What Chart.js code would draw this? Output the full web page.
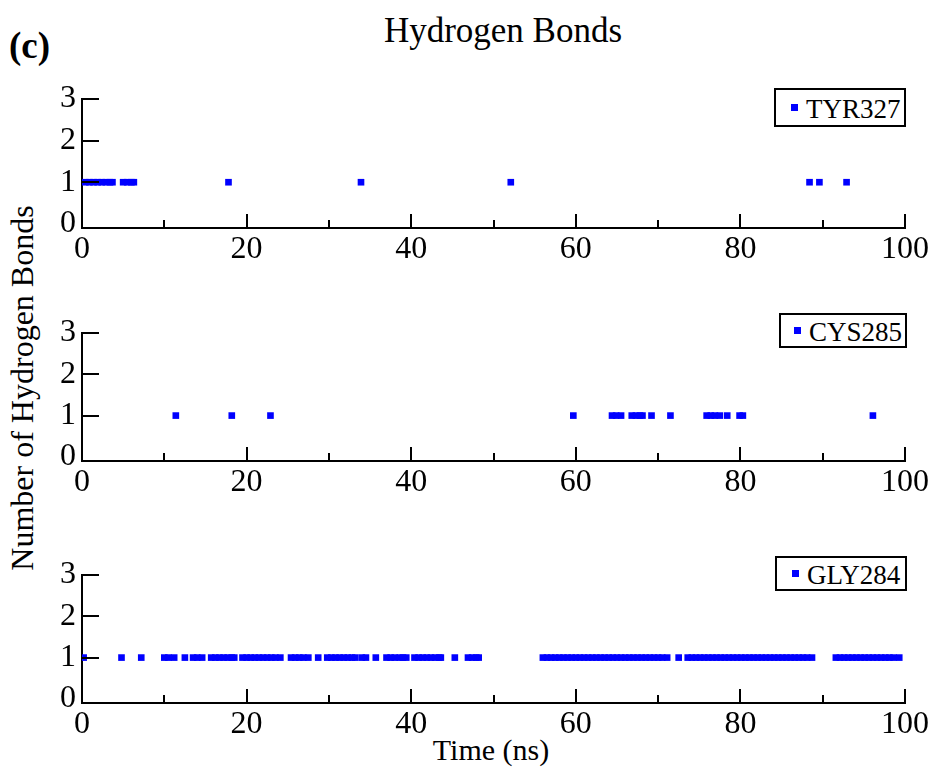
<!DOCTYPE html>
<html>
<head>
<meta charset="utf-8">
<script src="https://cdn.jsdelivr.net/npm/chart.js@4/dist/chart.umd.min.js"></script>
<style>
  html, body { margin: 0; padding: 0; background: #fff; }
  body { width: 931px; height: 767px; position: relative; overflow: hidden; font-family: "Liberation Serif", "DejaVu Serif", serif; color: #000; }
  .cv { position: absolute; left: 0; }
  .txt { position: absolute; white-space: nowrap; line-height: 1; }
  .legend { position: absolute; border: 2px solid #000; background: #fff; box-sizing: border-box; }
  .legend .mk { position: absolute; width: 7px; height: 7px; background: #0000ff; }
  .legend .lb { position: absolute; font-size: 27px; line-height: 1; }
</style>
</head>
<body>
<div class="txt" style="left:9px; top:27px; font-size:37px; font-weight:bold;">(c)</div>
<div class="txt" style="left:503px; top:13px; font-size:35px; transform:translateX(-50%);">Hydrogen Bonds</div>
<div class="txt" style="left:22px; top:388px; font-size:32px; transform:translate(-50%,-50%) rotate(-90deg);">Number of Hydrogen Bonds</div>
<div class="txt" style="left:491px; top:735px; font-size:30px; transform:translateX(-50%);">Time (ns)</div>

<canvas id="c1" class="cv" width="931" height="200" style="top:70px"></canvas>
<canvas id="c2" class="cv" width="931" height="200" style="top:305px"></canvas>
<canvas id="c3" class="cv" width="931" height="200" style="top:547px"></canvas>

<div class="legend" style="left:774px; top:88px; width:132px; height:39px;">
  <div class="mk" style="left:15px; top:14px;"></div>
  <div class="lb" style="left:30px; top:6px;">TYR327</div>
</div>
<div class="legend" style="left:779px; top:313px; width:128px; height:35px;">
  <div class="mk" style="left:13px; top:12px;"></div>
  <div class="lb" style="left:28px; top:4px;">CYS285</div>
</div>
<div class="legend" style="left:775px; top:556px; width:132px; height:35px;">
  <div class="mk" style="left:15px; top:12px;"></div>
  <div class="lb" style="left:30px; top:4px;">GLY284</div>
</div>

<script>
// ---- Data (times in ns at which a hydrogen bond is present; every shown point has a count of 1) ----
const BOND_COUNT = 1;
const Y_TICKS = [0, 1, 2, 3];
const X_TICKS = [0, 20, 40, 60, 80, 100];
const X_MINOR_TICKS = [10, 30, 50, 70, 90];

const TYR327_TIMES = [0.4, 0.9, 1.4, 1.9, 2.4, 2.9, 3.4, 3.7, 5.0, 5.5, 6.0, 6.3,
  17.8, 33.9, 52.1, 88.4, 89.6, 92.9];

const CYS285_TIMES = [11.4, 18.2, 22.9, 59.7, 64.4, 64.9, 65.5, 66.8, 67.3, 67.8, 68.1,
  69.2, 71.5, 75.9, 76.4, 76.9, 77.5, 78.4, 79.9, 80.3, 96.1];

const GLY284_TIMES = [0.2, 4.8, 7.2, 10.0, 10.5, 11.2, 12.5, 13.5, 14.0, 14.6,
  15.7, 16.2, 16.7, 17.2, 17.7, 18.2, 18.5,
  19.5, 20.0, 20.5, 21.0, 21.5, 22.0, 22.5, 23.0, 23.5, 24.1,
  25.4, 25.9, 26.4, 26.9, 27.5, 28.7,
  29.8, 30.3, 30.8, 31.3, 31.8, 32.3, 32.8, 33.2, 34.0, 34.5, 35.7,
  37.0, 37.5, 38.0, 38.6, 39.0, 39.4,
  40.4, 40.9, 41.4, 41.9, 42.4, 42.9, 43.4, 43.6, 45.3,
  46.9, 47.4, 47.9, 48.2,
  56.0, 56.5, 57.0, 57.5, 58.0, 58.5, 59.0, 59.5, 60.0, 60.5, 61.0, 61.5, 62.0, 62.5,
  63.0, 63.5, 64.0, 64.5, 65.0, 65.5, 66.0, 66.5, 67.0, 67.5, 68.0, 68.5, 69.0, 69.5,
  70.0, 70.5, 71.1, 72.5,
  73.6, 74.1, 74.6, 75.1, 75.6, 76.1, 76.6, 77.1, 77.6, 78.1, 78.6, 79.1, 79.6, 80.1,
  80.6, 81.1, 81.6, 82.1, 82.6, 83.1, 83.6, 84.1, 84.6, 85.1, 85.6, 86.1, 86.6, 87.1,
  87.6, 88.1, 88.7,
  91.6, 92.1, 92.6, 93.1, 93.6, 94.1, 94.6, 95.1, 95.6, 96.1, 96.6, 97.1, 97.6, 98.1,
  98.6, 99.3];

// ---- Chart builder ----
const FONT = "'Liberation Serif', 'DejaVu Serif', serif";

const inwardTicks = {
  id: 'inwardTicks',
  afterDatasetsDraw(chart) {
    const ctx = chart.ctx, x = chart.scales.x, y = chart.scales.y;
    const ca = chart.chartArea;
    ctx.save();
    ctx.strokeStyle = '#000';
    ctx.lineWidth = 2;
    ctx.beginPath();
    Y_TICKS.forEach(v => {
      if (v === 0) return;
      const py = Math.round(y.getPixelForValue(v));
      ctx.moveTo(ca.left, py);
      ctx.lineTo(ca.left + 17, py);
    });
    X_TICKS.forEach(v => {
      if (v === 0) return;
      const px = Math.round(x.getPixelForValue(v));
      ctx.moveTo(px, ca.bottom);
      ctx.lineTo(px, ca.bottom - 14);
    });
    X_MINOR_TICKS.forEach(v => {
      const px = Math.round(x.getPixelForValue(v));
      ctx.moveTo(px, ca.bottom);
      ctx.lineTo(px, ca.bottom - 8);
    });
    ctx.stroke();
    ctx.restore();
  }
};

function makeChart(id, label, times, padTop, xHeight) {
  const points = times.map(t => ({ x: t, y: BOND_COUNT }));
  return new Chart(document.getElementById(id), {
    type: 'scatter',
    data: {
      datasets: [{
        label: label,
        data: points,
        pointStyle: 'rect',
        pointRadius: 4.7,
        pointHoverRadius: 4.7,
        pointBorderWidth: 0,
        backgroundColor: '#0000ff',
        borderColor: '#0000ff'
      }]
    },
    options: {
      responsive: false,
      devicePixelRatio: 1,
      animation: false,
      events: [],
      layout: { padding: { top: padTop, right: 24, left: 0, bottom: 0 } },
      plugins: { legend: { display: false }, tooltip: { enabled: false }, title: { display: false } },
      scales: {
        x: {
          type: 'linear',
          min: 0, max: 100,
          afterFit(s) { s.height = xHeight; },
          afterBuildTicks(s) { s.ticks = X_TICKS.map(v => ({ value: v })); },
          grid: { display: false, drawTicks: false },
          border: { display: true, color: '#000', width: 2 },
          ticks: { color: '#000', font: { family: FONT, size: 32 }, padding: 2, maxRotation: 0, autoSkip: false }
        },
        y: {
          type: 'linear',
          min: -0.1, max: 3,
          afterFit(s) { s.width = 82; },
          afterBuildTicks(s) { s.ticks = Y_TICKS.map(v => ({ value: v })); },
          grid: { display: false, drawTicks: false },
          border: { display: true, color: '#000', width: 2 },
          ticks: { color: '#000', font: { family: FONT, size: 32 }, padding: 6 }
        }
      }
    },
    plugins: [inwardTicks]
  });
}

makeChart('c1', 'TYR327', TYR327_TIMES, 29, 42);
makeChart('c2', 'CYS285', CYS285_TIMES, 28, 44);
makeChart('c3', 'GLY284', GLY284_TIMES, 28, 44);
</script>
</body>
</html>
